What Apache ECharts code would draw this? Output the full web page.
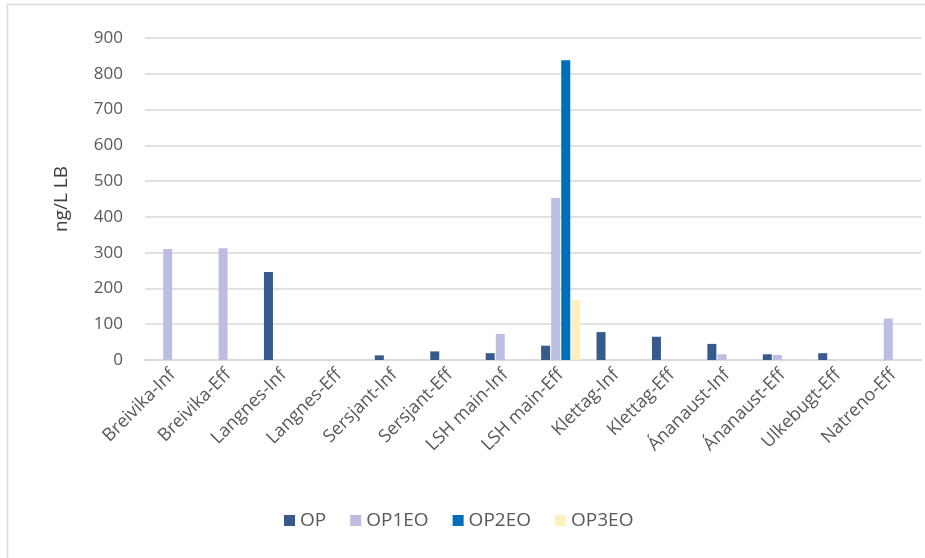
<!DOCTYPE html>
<html>
<head>
<meta charset="utf-8">
<script src="https://cdn.jsdelivr.net/npm/echarts@6/dist/echarts.min.js"></script>
<style>
  html, body { margin: 0; padding: 0; background: #fff; }
  #chart { width: 925px; height: 558px; }
</style>
</head>
<body>
<div id="chart"></div>
<script>
// kategorier langs x-aksen
const categories = ['Breivika-Inf', 'Breivika-Eff', 'Langnes-Inf', 'Langnes-Eff', 'Sersjant-Inf',
  'Sersjant-Eff', 'LSH main-Inf', 'LSH main-Eff', 'Klettag-Inf', 'Klettag-Eff',
  'Ánanaust-Inf', 'Ánanaust-Eff', 'Ulkebugt-Eff', 'Natreno-Eff'];

const seriesNames = ['OP', 'OP1EO', 'OP2EO', 'OP3EO'];

const op     = [null, null, 246, null, 13, 24, 19, 40, 78, 65, 45, 16, 19, null];
const op1eo  = [310, 312, null, null, null, null, 73, 453, null, null, 16, 14, null, 116];
const op2eo  = [null, null, null, null, null, null, null, 838, null, null, null, null, null, null];
const op3eo  = [null, null, null, null, null, null, null, 168, null, null, null, null, null, null];

const colors = ['#375a8c', '#bdbde3', '#006eb8', '#fff0c0'];
const values = [op, op1eo, op2eo, op3eo];

const chart = echarts.init(document.getElementById('chart'));

chart.setOption({
  animation: false,
  textStyle: { fontFamily: '"Open Sans", Lato, sans-serif' },
  graphic: [{
    type: 'polyline',
    shape: { points: [[7.5, 560], [7.5, 4.5], [930, 4.5]] },
    style: { fill: 'none', stroke: '#d9d9d9', lineWidth: 1.5 },
    silent: true
  }],
  grid: { left: 145, right: 4, top: 38, bottom: 198 },
  legend: {
    bottom: 23,
    left: 279,
    itemWidth: 11,
    itemHeight: 11,
    itemGap: 24,
    icon: 'rect',
    textStyle: { fontSize: 19, color: '#595959' },
    data: seriesNames
  },
  xAxis: {
    type: 'category',
    data: categories,
    axisLine: { lineStyle: { color: '#d9d9d9', width: 1.5 } },
    axisTick: { show: false },
    axisLabel: { rotate: 45, fontSize: 18, color: '#595959', interval: 0, margin: 12 }
  },
  yAxis: {
    type: 'value',
    min: 0,
    max: 900,
    interval: 100,
    name: 'ng/L LB',
    nameLocation: 'middle',
    nameGap: 74,
    nameTextStyle: { fontSize: 19, color: '#404040' },
    axisLine: { show: false },
    axisTick: { show: false },
    axisLabel: { fontSize: 17, color: '#595959', margin: 22 },
    splitLine: { lineStyle: { color: '#d9d9d9', width: 1.5 } }
  },
  series: seriesNames.map((name, i) => ({
    name: name,
    type: 'bar',
    data: values[i],
    barWidth: 9,
    barGap: '12%',
    itemStyle: { color: colors[i] }
  }))
});
</script>
</body>
</html>
